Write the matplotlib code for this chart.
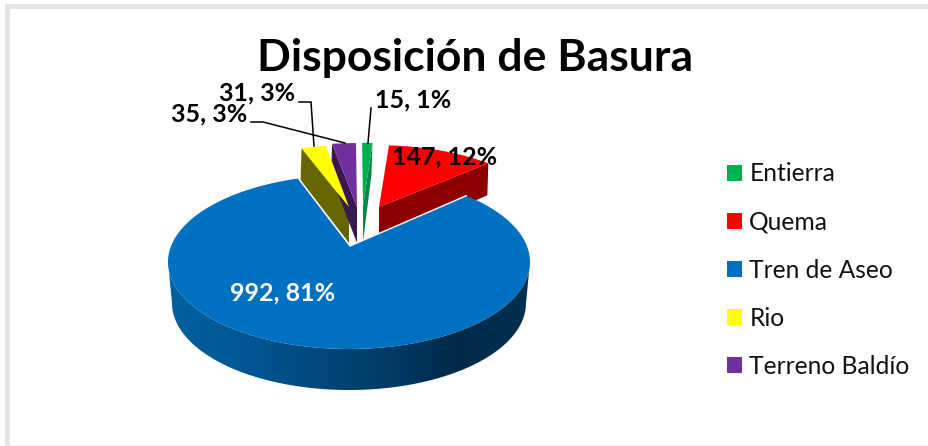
import numpy as np
import matplotlib
matplotlib.use("Agg")
import matplotlib.pyplot as plt
from matplotlib.patches import Polygon, Patch, Rectangle
from matplotlib.colors import LinearSegmentedColormap

title = "Disposición de Basura"
categories = ["Entierra", "Quema", "Tren de Aseo", "Rio", "Terreno Baldío"]
values = [15, 147, 992, 35, 31]
percents = [1, 12, 81, 3, 3]

colors = ["#00B050", "#FF0000", "#0070C0", "#FFFF00", "#7030A0"]
side_colors = ["#008A40", "#8C0000", "#004A80", "#666600", "#371850"]

plt.rcParams["font.family"] = ["Lato", "DejaVu Sans"]
W, H = 929, 446
fig = plt.figure(figsize=(W / 100, H / 100), dpi=100)
ax = fig.add_axes([0, 0, 1, 1])
ax.set_xlim(0, W)
ax.set_ylim(H, 0)
ax.axis("off")

# chart frame
ax.add_patch(Rectangle((5, 4), W, 5, fc="#E4E4E4", ec="none", zorder=0))
ax.add_patch(Rectangle((5, 4), 5, H, fc="#E4E4E4", ec="none", zorder=0))
ax.add_patch(Rectangle((5, 445), W, 1, fc="#ECECEC", ec="none", zorder=0))

# pie geometry (pixel space of the chart)
CX, CY, A, B = 349, 262, 181, 87
K = 16 / 87


def project(theta):
    """Unit-disc angle (clockwise from top) to offset from the blue apex, with perspective."""
    u, v = np.sin(theta), np.cos(theta)
    d = 1 + K * v
    x = CX + A * u * np.sqrt(1 - K ** 2) / d
    y = CY - B * (v + K) / d
    return np.column_stack([x - 350, y - 246])


shares = np.array(values, dtype=float) / np.sum(values)
edges = np.concatenate([[0], np.cumsum(shares)]) * 2 * np.pi

apex = {0: (363, 206), 1: (379, 207), 3: (349, 207), 4: (357, 207), 2: (350, 246)}
scale = {0: (0.89, 0.89), 1: (0.94, 0.87), 3: (0.92, 0.87), 4: (1.0, 0.9), 2: (1.0, 1.0)}
depth = 34
side_edge = {0: 1, 1: 1, 3: 0, 4: 0}  # which radial edge shows its side face


def arc(i, n=12):
    t = np.linspace(edges[i], edges[i + 1], n)
    return np.array(apex[i]) + np.array(scale[i]) * project(t)


# exploded small slices
for i in [1, 3, 4, 0]:
    pts = arc(i)
    a = np.array(apex[i], dtype=float)
    corner = pts[-1] if side_edge[i] else pts[0]
    side = np.array([a, corner, corner + [-1, depth - 2], a + [0, depth + 2]])
    ax.add_patch(Polygon(side, fc=side_colors[i], ec="none", zorder=2))
    ax.add_patch(Polygon(np.vstack([a, pts]), fc=colors[i], ec="none", zorder=3))

# blue slice: side wall with horizontal gradient
t = np.linspace(np.pi / 2, 3 * np.pi / 2, 200)
top_x, top_y = CX + A * np.sin(t), CY - B * np.cos(t)
bot_x, bot_y = CX + 177 * np.sin(t), 303 - 87 * np.cos(t)
wall = Polygon(np.vstack([np.column_stack([top_x, top_y]),
                          np.column_stack([bot_x, bot_y])[::-1]]),
               fc="none", ec="none", zorder=4)
ax.add_patch(wall)
cmap = LinearSegmentedColormap.from_list(
    "wall", [(0, "#00619F"), (0.25, "#00548F"), (0.55, "#003F6C"),
             (0.8, "#002A49"), (1, "#00314F")])
im = ax.imshow(np.linspace(0, 1, 256)[None, :], cmap=cmap, aspect="auto",
               extent=(168, 530, 400, 250), zorder=4)
im.set_clip_path(wall)
ax.set_xlim(0, W)
ax.set_ylim(H, 0)

pts = arc(2, 200)
ax.add_patch(Polygon(np.vstack([apex[2], pts]), fc=colors[2], ec="none", zorder=5))
# thin white rim along the two straight edges of the big slice
ax.plot([pts[0, 0], apex[2][0], pts[-1, 0]], [pts[0, 1], apex[2][1], pts[-1, 1]],
        color="white", lw=1.0, solid_joinstyle="miter", zorder=5)

# leader lines
for xs, ys in [([251, 263, 345], [122, 122, 143]),
               ([299, 311, 314], [102, 102, 146]),
               ([371, 368], [108, 143])]:
    ax.plot(xs, ys, color="black", lw=1.1, solid_joinstyle="miter", zorder=6)

# labels
lab = [f"{v}, {p}%" for v, p in zip(values, percents)]
kw = dict(fontweight="bold", fontsize=18, va="center", zorder=7)
ax.text(375, 100, lab[0], ha="left", color="black", **kw)
ax.text(392, 157, lab[1], ha="left", color="black", **kw)
ax.text(230, 293, lab[2], ha="left", color="white", **kw)
ax.text(171, 114, lab[3], ha="left", color="black", **kw)
ax.text(219, 93, lab[4], ha="left", color="black", **kw)

ax.text(475, 58, title, ha="center", va="center", fontsize=32, fontweight="bold", color="black")

handles = [Patch(fc=c, ec="none") for c in colors]
fs = 17.7
px = fs * 100 / 72
ax.legend(handles, categories, loc="upper left", bbox_to_anchor=(720 / W, 1 - 155 / H),
          frameon=False, fontsize=fs, handlelength=15 / px, handleheight=15 / px,
          handletextpad=7 / px, labelspacing=(49.7 - px) / px, borderpad=0.3, borderaxespad=0,
          labelcolor="#111111")

fig.savefig("out.png", dpi=100)
